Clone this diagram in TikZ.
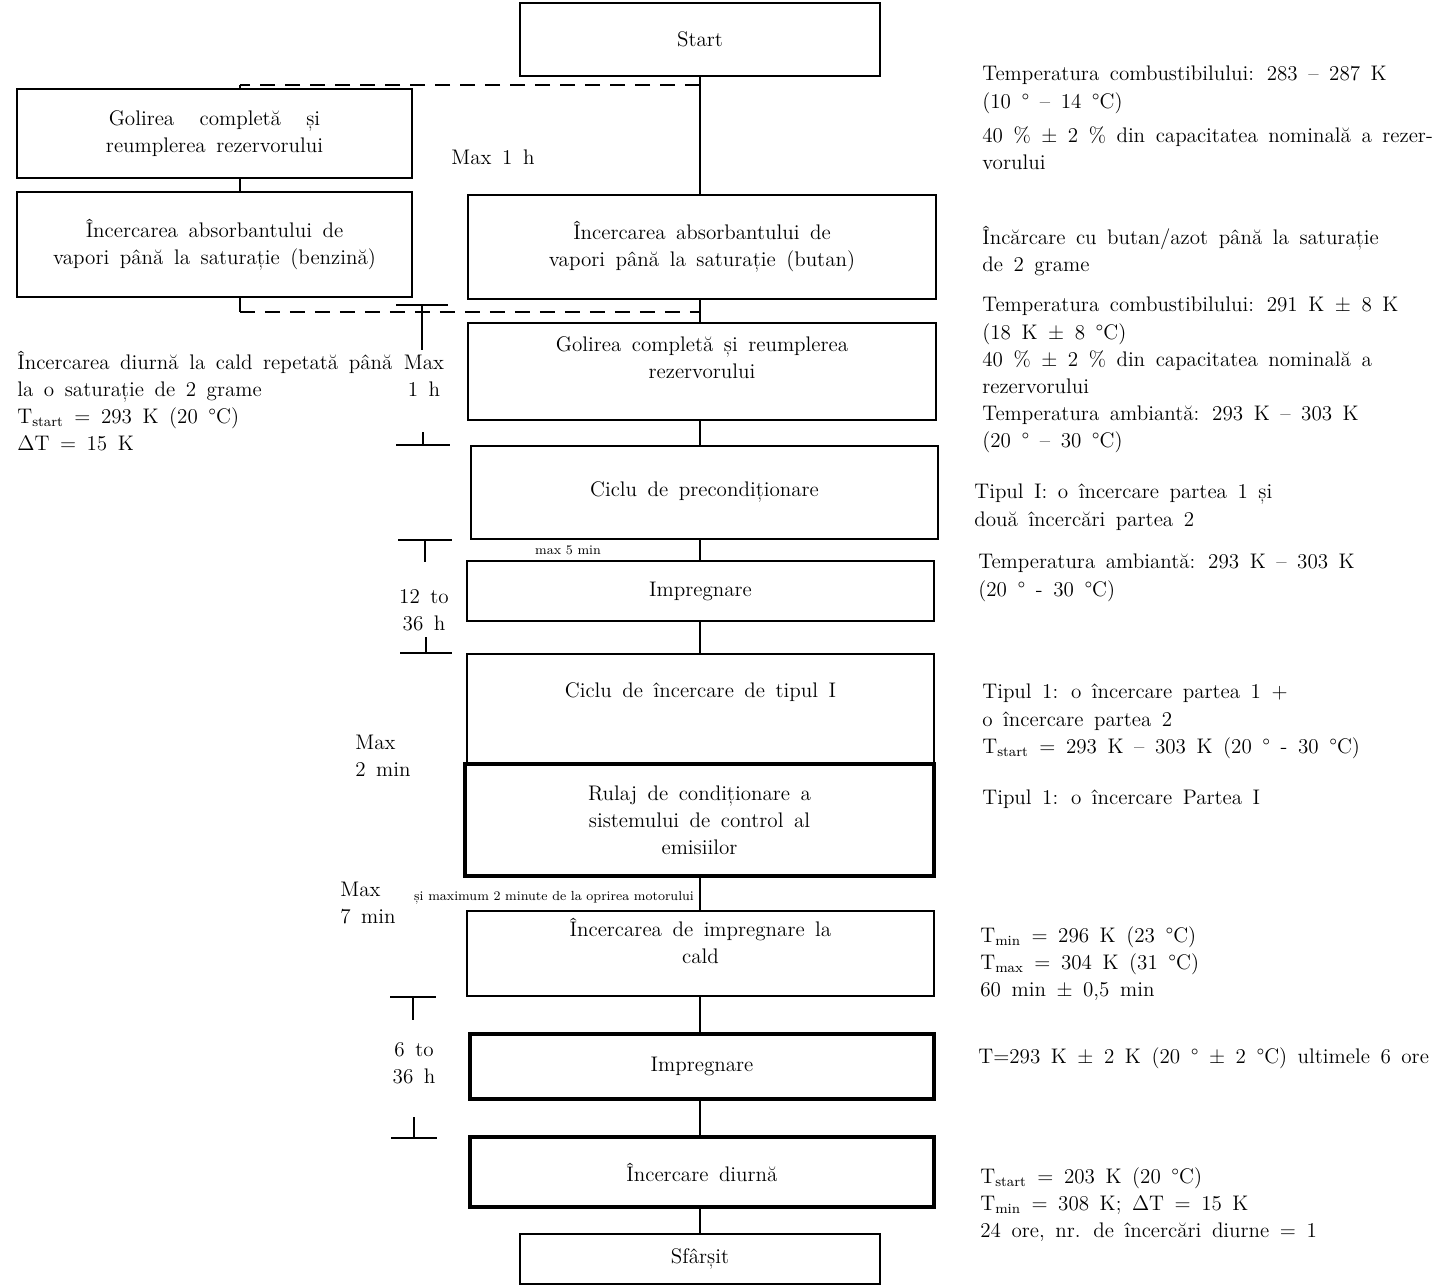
\documentclass[tikz,border=0pt]{standalone}
\usepackage{tikz}
\usetikzlibrary{positioning,calc}

\newcommand\txtfont{\fontsize{12}{15.4}\selectfont\spaceskip=0.5em plus 0.1em minus 0.05em\relax}

\begin{document}
\begin{tikzpicture}[
  x=0.02cm, y=-0.02cm,
  txt/.style={font=\txtfont},
  box/.style={draw, line width=1.4pt, align=center, inner sep=2pt, txt},
  boldbox/.style={box, line width=2.8pt},
  sz/.style 2 args={minimum width=#1*0.02cm, minimum height=#2*0.02cm},
  note/.style={txt, align=left, anchor=north west, inner sep=0pt},
  lbl/.style={txt, align=center, inner sep=0pt},
  tiny/.style={font=\fontsize{7.5}{9}\selectfont, inner sep=0pt},
  link/.style={line width=1.1pt},
  dashlink/.style={line width=1.1pt, dash pattern=on 0.3cm off 0.2cm}
]
  \useasboundingbox (0,0) rectangle (1449,1287);

  % Boxes
  \node[box, sz={360}{73}] (start) at (700,39.5) {Start};
  \node[box, sz={395}{89}] (golL) at (214.5,133.5) {Golirea\hspace{1.2em}completă\hspace{1.2em}și\\reumplerea rezervorului};
  \node[box, sz={395}{105}] (absL) at (214.5,244.5) {Încercarea absorbantului de\\vapori până la saturație (benzină)};
  \node[box, sz={468}{104}] (absR) at (702,247) {Încercarea absorbantului de\\vapori până la saturație (butan)};
  \node[box, sz={468}{97}, text depth=0.55cm] (golR) at (702,371.5) {Golirea completă și reumplerea\\rezervorului};
  \node[box, sz={467}{93}] (precond) at (704.5,492.5) {Ciclu de precondiționare};
  \node[box, sz={467}{60}] (imp1) at (700.5,591) {Impregnare};
  \node[box, sz={467}{110}, text depth=0.75cm] (ciclu) at (700.5,709) {Ciclu de încercare de tipul I};
  \node[boldbox, sz={469}{112}] (rulaj) at (699.5,820) {Rulaj de condiționare a\\sistemului de control al\\emisiilor};
  \node[box, sz={467}{85}, text depth=0.5cm] (cald) at (700.5,953.5) {Încercarea de impregnare la\\cald};
  \node[boldbox, sz={464}{65}] (imp2) at (702,1066.5) {Impregnare};
  \node[boldbox, sz={464}{70}] (diurna) at (702,1172) {Încercare diurnă};
  \node[box, sz={360}{50}] (stop) at (700,1259) {Sfârșit};

  % Connections
  \coordinate (jTop) at (700,85);
  \coordinate (jTopL) at (240,85);
  \coordinate (jBot) at (700,312);
  \coordinate (jBotL) at (240,312);
  \draw[link] (start.south) -- (start.south |- absR.north);
  \draw[dashlink] (jTop) -- (jTopL);
  \draw[link] (jTopL) -- (golL.north -| jTopL);
  \draw[link] (golL.south -| jTopL) -- (absL.north -| jTopL);
  \draw[link] (absL.south -| jBotL) -- (jBotL);
  \draw[dashlink] (jBotL) -- (jBot);
  \draw[link] (absR.south -| start.south) -- (golR.north -| start.south);
  \foreach \a/\b in {golR/precond, precond/imp1, imp1/ciclu, rulaj/cald, cald/imp2, imp2/diurna, diurna/stop}
    \draw[link] (\a.south -| start.south) -- (\b.north -| start.south);

  % Time brackets
  \foreach \x/\y/\e/\w in {422/305/350/26, 425/540/562/27, 413/997/1020/23,
                          423/445/432/27, 426/653/637/26, 414/1138/1117/23}
    \draw[link] (\x-\w,\y) -- (\x+\w,\y) (\x,\y) -- (\x,\e);

  % Time labels
  \node[lbl] (max1) at (493,157) {Max 1 h};
  \node[lbl] (max1b) at (424,376) {Max\\1 h};
  \node[lbl] (h12) at (424,610) {12 to\\36 h};
  \node[lbl, align=left, anchor=west] (max2) at (355,756) {Max\\2 min};
  \node[lbl, align=left, anchor=west] (max7) at (340,903) {Max\\7 min};
  \node[lbl] (h6) at (414,1063) {6 to\\36 h};
  \node[tiny] (max5) at (568,550) {max 5 min};
  \node[tiny] (oprire) at (554,898) {și maximum 2 minute de la oprirea motorului};

  % Notes
  \node[note] (nL) at (17,351) {Încercarea diurnă la cald repetată până\\la o saturație de 2 grame\\T\textsubscript{start} = 293 K (20 °C)\\$\Delta$T = 15 K};
  \node[note] (n1) at (982,66) {Temperatura combustibilului: 283 – 287 K\\(10 ° – 14 °C)\\[4pt]40 \% ± 2 \% din capacitatea nominală a rezer-\\vorului};
  \node[note] (n2) at (982,226) {Încărcare cu butan/azot până la saturație\\de 2 grame};
  \node[note] (n3) at (982,297) {Temperatura combustibilului: 291 K ± 8 K\\(18 K ± 8 °C)\\40 \% ± 2 \% din capacitatea nominală a\\rezervorului\\Temperatura ambiantă: 293 K – 303 K\\(20 ° – 30 °C)};
  \node[note] (n4) at (974,484) {Tipul I: o încercare partea 1 și\\două încercări partea 2};
  \node[note] (n5) at (978,554) {Temperatura ambiantă: 293 K – 303 K\\(20 ° - 30 °C)};
  \node[note] (n6) at (982,684) {Tipul 1: o încercare partea 1 +\\o încercare partea 2\\T\textsubscript{start} = 293 K – 303 K (20 ° - 30 °C)};
  \node[note] (n7) at (982,790) {Tipul 1: o încercare Partea I};
  \node[note] (n8) at (980,926) {T\textsubscript{min} = 296 K (23 °C)\\T\textsubscript{max} = 304 K (31 °C)\\60 min ± 0,5 min};
  \node[note] (n9) at (978,1047) {T=293 K ± 2 K (20 ° ± 2 °C) ultimele 6 ore};
  \node[note] (n10) at (980,1167) {T\textsubscript{start} = 203 K (20 °C)\\T\textsubscript{min} = 308 K; $\Delta$T = 15 K\\24 ore, nr. de încercări diurne = 1};
\end{tikzpicture}
\end{document}
